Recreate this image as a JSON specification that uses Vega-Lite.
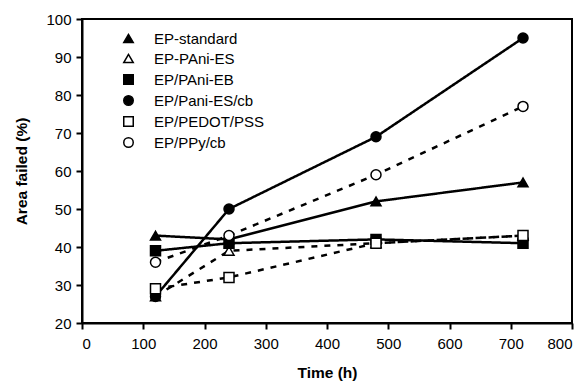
{
  "$schema": "https://vega.github.io/schema/vega-lite/v6.json",
  "width": 490,
  "height": 304,
  "autosize": {"type": "none"},
  "padding": {"left": 82, "top": 19, "right": 13, "bottom": 63},
  "background": "white",
  "config": {
    "font": "Liberation Sans",
    "view": {"stroke": "black", "strokeWidth": 2},
    "axis": {
      "grid": false,
      "domainColor": "black",
      "domainWidth": 2,
      "tickColor": "black",
      "tickWidth": 2,
      "tickSize": 6,
      "labelColor": "black",
      "labelFontSize": 15,
      "titleColor": "black",
      "titleFontSize": 15.5,
      "titleFontWeight": "bold"
    },
    "legend": {
      "orient": "none", "legendX": 39, "legendY": 12, "padding": 0,
      "labelFontSize": 15, "labelColor": "black", "symbolSize": 90,
      "rowPadding": 4, "labelOffset": 18, "symbolOpacity": 1
    }
  },
  "resolve": {"legend": {"strokeDash": "independent"}},
  "data": {
    "values": [
      {"series": "EP-standard", "time": 120, "area": 43},
      {"series": "EP-standard", "time": 240, "area": 42},
      {"series": "EP-standard", "time": 480, "area": 52},
      {"series": "EP-standard", "time": 720, "area": 57},
      {"series": "EP-PAni-ES", "time": 120, "area": 27},
      {"series": "EP-PAni-ES", "time": 240, "area": 39},
      {"series": "EP-PAni-ES", "time": 480, "area": 41},
      {"series": "EP-PAni-ES", "time": 720, "area": 43},
      {"series": "EP/PAni-EB", "time": 120, "area": 39},
      {"series": "EP/PAni-EB", "time": 240, "area": 41},
      {"series": "EP/PAni-EB", "time": 480, "area": 42},
      {"series": "EP/PAni-EB", "time": 720, "area": 41},
      {"series": "EP/Pani-ES/cb", "time": 120, "area": 27},
      {"series": "EP/Pani-ES/cb", "time": 240, "area": 50},
      {"series": "EP/Pani-ES/cb", "time": 480, "area": 69},
      {"series": "EP/Pani-ES/cb", "time": 720, "area": 95},
      {"series": "EP/PEDOT/PSS", "time": 120, "area": 29},
      {"series": "EP/PEDOT/PSS", "time": 240, "area": 32},
      {"series": "EP/PEDOT/PSS", "time": 480, "area": 41},
      {"series": "EP/PEDOT/PSS", "time": 720, "area": 43},
      {"series": "EP/PPy/cb", "time": 120, "area": 36},
      {"series": "EP/PPy/cb", "time": 240, "area": 43},
      {"series": "EP/PPy/cb", "time": 480, "area": 59},
      {"series": "EP/PPy/cb", "time": 720, "area": 77}
    ]
  },
  "encoding": {
    "x": {
      "field": "time", "type": "quantitative", "title": "Time (h)",
      "scale": {"domain": [0, 800], "nice": false},
      "axis": {"values": [0,100,200,300,400,500,600,700,800], "labelPadding": 7, "titlePadding": 14}
    },
    "y": {
      "field": "area", "type": "quantitative", "title": "Area failed (%)",
      "scale": {"domain": [20, 100], "nice": false, "zero": false},
      "axis": {"values": [20,30,40,50,60,70,80,90,100], "labelPadding": 5, "titlePadding": 16}
    }
  },
  "layer": [
    {
      "mark": {"type": "line", "color": "black", "strokeWidth": 2.5},
      "encoding": {
        "detail": {"field": "series"},
        "strokeDash": {
          "field": "series", "type": "nominal", "legend": null,
          "scale": {
            "domain": ["EP-standard", "EP-PAni-ES", "EP/PAni-EB", "EP/Pani-ES/cb", "EP/PEDOT/PSS", "EP/PPy/cb"],
            "range": [[1, 0], [6, 7], [1, 0], [1, 0], [6, 7], [6, 7]]
          }
        }
      }
    },
    {
      "mark": {"type": "point", "filled": true, "stroke": "black", "strokeWidth": 1.5, "size": 100, "opacity": 1},
      "encoding": {
        "shape": {
          "field": "series", "type": "nominal", "title": null,
          "scale": {
            "domain": ["EP-standard", "EP-PAni-ES", "EP/PAni-EB", "EP/Pani-ES/cb", "EP/PEDOT/PSS", "EP/PPy/cb"],
            "range": ["triangle-up", "triangle-up", "square", "circle", "square", "circle"]
          },
          "legend": {
            "encode": {
              "symbols": {
                "stroke": {"value": "black"},
                "strokeWidth": {"value": 1.8},
                "shape": {"signal": "datum.value === 'EP-standard' ? 'M-3.8,0H3.8M0,-1.25L-1.15,0.8L1.15,0.8Z' : datum.value === 'EP-PAni-ES' ? 'M-3.6,0H-2.5M2.4,0H2.75M0,-1.15L-1.05,0.75L1.05,0.75Z' : datum.value === 'EP/PAni-EB' ? 'M-3.8,0H3.8M-1,-1H1V1H-1Z' : datum.value === 'EP/Pani-ES/cb' ? 'M-3.8,0H3.8M-1.05,0A1.05,1.05 0 1,0 1.05,0A1.05,1.05 0 1,0 -1.05,0Z' : datum.value === 'EP/PEDOT/PSS' ? 'M-3.6,0H-2.5M2.4,0H2.75M-0.95,-0.95H0.95V0.95H-0.95Z' : 'M-3.6,0H-2.5M2.4,0H2.75M-0.95,0A0.95,0.95 0 1,0 0.95,0A0.95,0.95 0 1,0 -0.95,0Z'"}
              }
            }
          }
        },
        "fill": {
          "field": "series", "type": "nominal", "title": null,
          "scale": {
            "domain": ["EP-standard", "EP-PAni-ES", "EP/PAni-EB", "EP/Pani-ES/cb", "EP/PEDOT/PSS", "EP/PPy/cb"],
            "range": ["black", "white", "black", "black", "white", "white"]
          }
        }
      }
    }
  ]
}
